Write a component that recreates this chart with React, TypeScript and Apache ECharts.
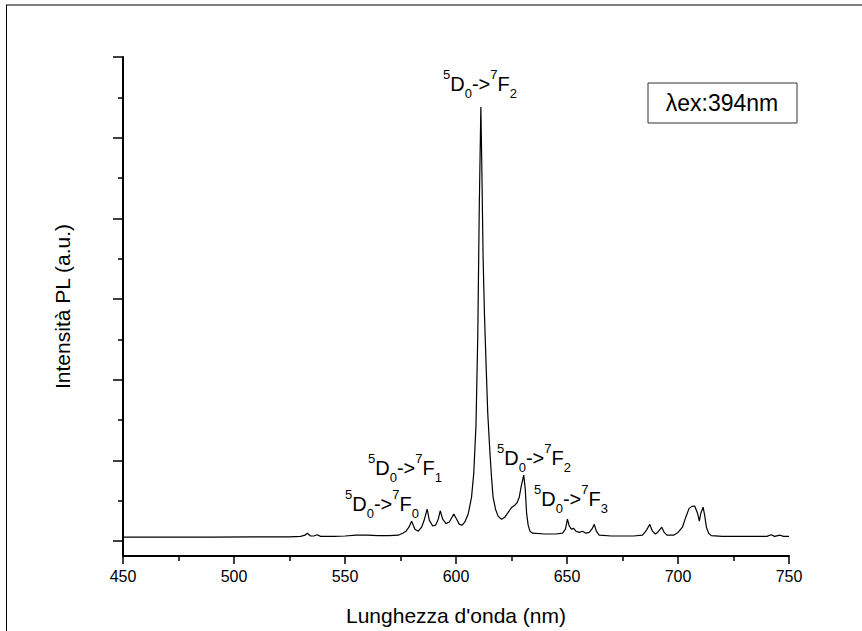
import React, { useEffect, useRef } from "react";
import * as echarts from "echarts";

// wavelength (nm) and PL intensity (arbitrary units, 0..12 scale of the y axis)
const wavelengths = [
  450, 470, 490, 510, 525, 530, 532, 533, 534.5, 536, 537.5, 539, 545, 550, 555, 560, 565, 570, 574, 576,
  577.5, 578.8, 580, 581.5, 583, 584.5, 585.8, 587, 588, 589.5, 590.8, 592, 592.9, 594, 595.5, 597, 598.2,
  599, 600.3, 601.5, 602.8, 604, 605.5, 607, 608, 609, 609.8, 610.5, 611.2, 611.7, 612.2, 612.8, 613.5,
  614.3, 615.3, 616, 616.7, 617.8, 619, 620.5, 622, 623.5, 625, 626.5, 627.5, 628.5, 629.3, 630.5, 631.2,
  631.8, 632.5, 633.3, 634.5, 640, 645, 648, 649.3, 650.2, 651, 652, 653, 654, 655.5, 657, 658.5, 660,
  661.2, 662.3, 663.2, 664.5, 670, 680, 684, 685.5, 687.3, 688.5, 689.8, 690.8, 692.7, 693.8, 695, 698,
  700, 702, 703.5, 705, 706.3, 707.5, 708.8, 709.6, 710.3, 711.3, 712, 712.8, 713.8, 715, 720, 730, 740,
  742, 743.5, 746, 747.5, 750,
];
const intensity = [
  0, 0, 0, 0.01, 0.01, 0.02, 0.05, 0.1, 0.03, 0.03, 0.06, 0.02, 0.02, 0.03, 0.05, 0.05, 0.04, 0.04, 0.05, 0.1,
  0.15, 0.25, 0.4, 0.2, 0.15, 0.25, 0.45, 0.7, 0.42, 0.28, 0.3, 0.45, 0.66, 0.45, 0.34, 0.38, 0.5,
  0.58, 0.45, 0.32, 0.3, 0.38, 0.58, 1.0, 1.6, 2.8, 5.0, 8.3, 10.75, 9.0, 7.0, 5.6, 4.4,
  3.1, 2.1, 1.5, 1.0, 0.7, 0.52, 0.45, 0.5, 0.62, 0.74, 0.8, 0.86, 1.0, 1.25, 1.55, 1.2,
  0.6, 0.3, 0.15, 0.1, 0.08, 0.08, 0.1, 0.2, 0.45, 0.28, 0.2, 0.22, 0.15, 0.12, 0.15, 0.1, 0.12,
  0.2, 0.32, 0.15, 0.05, 0.03, 0.03, 0.05, 0.15, 0.32, 0.15, 0.08, 0.12, 0.25, 0.12, 0.05, 0.05,
  0.12, 0.25, 0.5, 0.72, 0.77, 0.78, 0.6, 0.4, 0.6, 0.75, 0.55, 0.25, 0.1, 0.04, 0.02, 0.02, 0.02,
  0.06, 0.02, 0.05, 0.02, 0.02,
];

const xTitle = "Lunghezza d'onda (nm)";
const yTitle = "Intensità PL (a.u.)";
const legendText = "λex:394nm";

// transition labels: [superscript, letter, subscript, superscript, letter, subscript]
const transitions = [
  { text: ["5", "D", "0", "7", "F", "2"], x: 443, y: 68 },
  { text: ["5", "D", "0", "7", "F", "0"], x: 345, y: 488 },
  { text: ["5", "D", "0", "7", "F", "1"], x: 368, y: 452 },
  { text: ["5", "D", "0", "7", "F", "2"], x: 497, y: 442 },
  { text: ["5", "D", "0", "7", "F", "3"], x: 534, y: 483 },
];

const FONT = "'Liberation Sans', Arial, Helvetica, sans-serif";

export default function App() {
  const ref = useRef<HTMLDivElement>(null);
  useEffect(() => {
    document.body.style.margin = "0";
    const chart = echarts.init(ref.current!, undefined, { renderer: "svg" });
    const rich = {
      m: { fontSize: 20, lineHeight: 32, verticalAlign: "middle", fontFamily: FONT, fill: "#000" },
      sup: { fontSize: 13, lineHeight: 17, verticalAlign: "top", fontFamily: FONT, fill: "#000" },
      sub: { fontSize: 13, lineHeight: 13, verticalAlign: "bottom", fontFamily: FONT, fill: "#000" },
    };
    const labelGraphics = transitions.map((t) => ({
      type: "text",
      x: t.x,
      y: t.y,
      z: 100,
      style: {
        text: `{sup|${t.text[0]}}{m|${t.text[1]}}{sub|${t.text[2]}}{m|->}{sup|${t.text[3]}}{m|${t.text[4]}}{sub|${t.text[5]}}`,
        rich,
        align: "left",
        verticalAlign: "top",
        fill: "#000",
      },
    }));
    chart.setOption({
      animation: false,
      backgroundColor: "#fff",
      grid: [
        { left: 123, right: 73, top: 57, bottom: 71 },
        { left: 123, right: 73, top: 57, bottom: 90 },
      ],
      xAxis: [
        {
          type: "value",
          gridIndex: 0,
          min: 450,
          max: 750,
          interval: 50,
          name: xTitle,
          nameLocation: "middle",
          nameGap: 49,
          nameTextStyle: { fontSize: 21, color: "#000", fontFamily: FONT },
          axisLine: { show: true, onZero: false, lineStyle: { color: "#000", width: 2 } },
          axisTick: { show: true, inside: false, length: 8, lineStyle: { color: "#000", width: 1.5 } },
          minorTick: { show: true, splitNumber: 2, length: 5, lineStyle: { color: "#000", width: 1.5 } },
          axisLabel: { fontSize: 16, color: "#000", margin: 12, fontFamily: FONT },
          splitLine: { show: false },
        },
        { type: "value", gridIndex: 1, min: 450, max: 750, show: false },
      ],
      yAxis: [
        {
          type: "value",
          gridIndex: 0,
          min: -0.47,
          max: 12,
          name: yTitle,
          nameLocation: "middle",
          nameGap: 50,
          nameRotate: 90,
          nameTextStyle: { fontSize: 21, color: "#000", fontFamily: FONT },
          axisLine: { show: true, lineStyle: { color: "#000", width: 2 } },
          axisTick: { show: false },
          axisLabel: { show: false },
          splitLine: { show: false },
        },
        {
          type: "value",
          gridIndex: 1,
          min: 0,
          max: 12,
          interval: 2,
          axisLine: { show: false },
          axisTick: { show: true, inside: false, length: 10, lineStyle: { color: "#000", width: 1.5 } },
          minorTick: { show: true, splitNumber: 2, length: 5, lineStyle: { color: "#000", width: 1.5 } },
          axisLabel: { show: false },
          splitLine: { show: false },
        },
      ],
      series: [
        {
          type: "line",
          xAxisIndex: 0,
          yAxisIndex: 0,
          data: wavelengths.map((w, i) => [w, intensity[i]]),
          showSymbol: false,
          symbol: "none",
          lineStyle: { color: "#000", width: 1.2 },
          itemStyle: { color: "#000" },
        },
      ],
      graphic: [
        { type: "line", shape: { x1: 6, y1: 5, x2: 862, y2: 5 }, style: { stroke: "#808080", lineWidth: 2 } },
        { type: "line", shape: { x1: 6.5, y1: 5, x2: 6.5, y2: 631 }, style: { stroke: "#000", lineWidth: 1 } },
        { type: "rect", shape: { x: 648, y: 83, width: 149, height: 40 }, style: { fill: "#fff", stroke: "#333", lineWidth: 1 } },
        {
          type: "text",
          x: 722,
          y: 103,
          style: { text: legendText, fontSize: 23, fontFamily: FONT, fill: "#000", align: "center", verticalAlign: "middle" },
        },
        ...labelGraphics,
      ],
    });
    return () => chart.dispose();
  }, []);
  return <div ref={ref} style={{ width: 862, height: 631 }} />;
}
